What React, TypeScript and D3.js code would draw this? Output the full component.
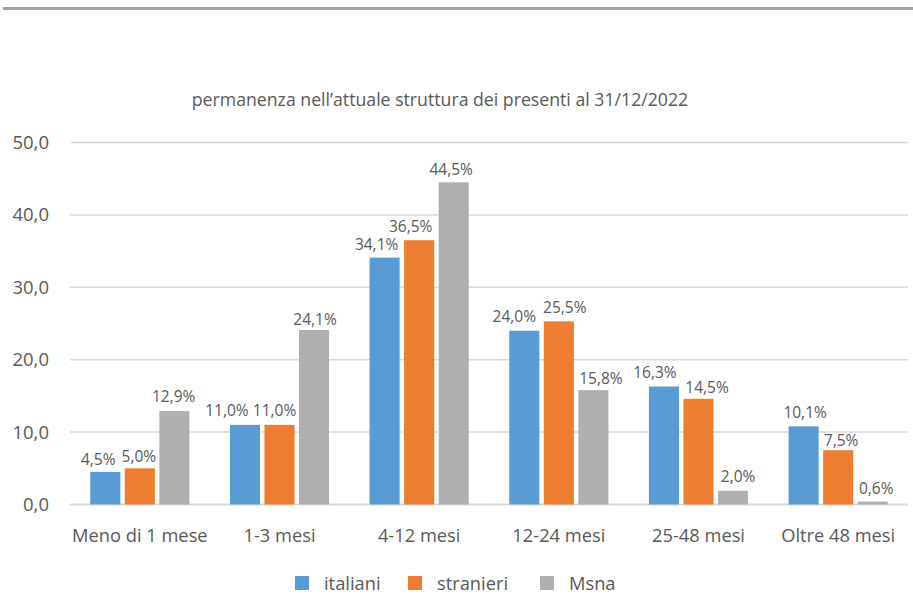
import React from "react";
import * as d3 from "d3";

const categories = ["Meno di 1 mese", "1-3 mesi", "4-12 mesi", "12-24 mesi", "25-48 mesi", "Oltre 48 mesi"];
const seriesNames = ["italiani", "stranieri", "Msna"];
const italiani = [4.5, 11.0, 34.1, 24.0, 16.3, 10.8];
const stranieri = [5.0, 11.0, 36.5, 25.3, 14.6, 7.5];
const msna = [12.9, 24.1, 44.5, 15.8, 1.9, 0.4];
const italianiLabels = ["4,5%", "11,0%", "34,1%", "24,0%", "16,3%", "10,1%"];
const stranieriLabels = ["5,0%", "11,0%", "36,5%", "25,5%", "14,5%", "7,5%"];
const msnaLabels = ["12,9%", "24,1%", "44,5%", "15,8%", "2,0%", "0,6%"];
const yTicks = [0, 10, 20, 30, 40, 50];
const title = "permanenza nell\u2019attuale struttura dei presenti al 31/12/2022";

// label placement nudges (layout, px)
const labelDx = [
  [-7, -18, -8, -10, -9, 1.5],
  [-1, -5, -8.5, 6, 8.5, 3],
  [-0.7, 1, -2.5, 7.5, 5, 3.5],
];
const labelGap = [
  [6.7, 8.7, 7.7, 8.3, 8.7, 8.7],
  [6, 8.7, 8.3, 8.7, 6, 4.7],
  [8.7, 5, 7, 5.7, 9, 8],
];

const colors = ["#5b9bd5", "#ed7d31", "#afafaf"];
const FONT = "'Open Sans', sans-serif";
const TXT = "#595959";

export default function App() {
  const W = 913, H = 596;
  const left = 70, right = 908, top = 142.5, bottom = 504.5;
  const x = d3.scaleBand<string>().domain(categories).range([left, right]).padding(0);
  const y = d3.scaleLinear().domain([0, 50]).range([bottom, top]);
  const groupW = x.bandwidth() * 0.71;
  const values = [italiani, stranieri, msna];
  const labels = [italianiLabels, stranieriLabels, msnaLabels];
  const fmt = (v: number) => d3.format(".1f")(v).replace(".", ",");

  return (
    <svg width={W} height={H} style={{ position: "absolute", left: 0, top: 0, background: "#fff" }}>
      <rect x={3} y={7} width={910} height={3} fill="#95a3ad" />
      <text x={440} y={106} textAnchor="middle" fontFamily={FONT} fontSize={17.7} fill={TXT}>{title}</text>
      {yTicks.map((t) => (
        <g key={t}>
          <line x1={left} x2={right} y1={y(t)} y2={y(t)} stroke="#d9d9d9" strokeWidth={t === 0 ? 2 : 1.5} />
          <text x={49} y={y(t)} dy="0.35em" textAnchor="end" fontFamily={FONT} fontSize={18.5} fill={TXT}>{fmt(t)}</text>
        </g>
      ))}
      {categories.map((c, ci) => {
        const cx = (x(c) as number) + x.bandwidth() / 2;
        const inner = d3.scaleBand<string>().domain(seriesNames).range([cx - groupW / 2, cx + groupW / 2]).paddingInner(0.13);
        return (
          <g key={c}>
            {seriesNames.map((s, si) => {
              const v = values[si][ci];
              const bx = inner(s) as number;
              return (
                <g key={s}>
                  <rect x={bx} y={y(v)} width={inner.bandwidth()} height={y(0) - y(v)} fill={colors[si]} />
                  <text x={bx + inner.bandwidth() / 2 + labelDx[si][ci]} y={y(v) - labelGap[si][ci]} textAnchor="middle" fontFamily={FONT} fontSize={15.5} fill={TXT}>{labels[si][ci]}</text>
                </g>
              );
            })}
            <text x={cx} y={542} textAnchor="middle" fontFamily={FONT} fontSize={18.3} fill={TXT}>{c}</text>
          </g>
        );
      })}
      {seriesNames.map((s, si) => {
        const lx = [295, 408, 540][si];
        return (
          <g key={s}>
            <rect x={lx} y={576} width={14} height={14} fill={colors[si]} />
            <text x={lx + 29} y={590} fontFamily={FONT} fontSize={18.3} fill={TXT}>{s}</text>
          </g>
        );
      })}
    </svg>
  );
}
